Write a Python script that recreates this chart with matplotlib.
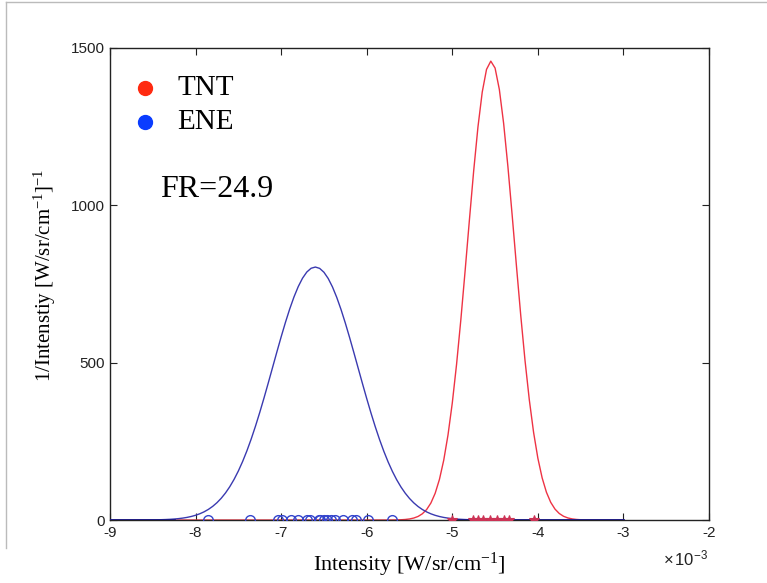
import numpy as np
import matplotlib
matplotlib.use("Agg")
import matplotlib.pyplot as plt
from matplotlib.lines import Line2D

# Data (x in units of 1e-3 W/sr/cm^-1)
tnt_x = [-5.00, -4.76, -4.70, -4.64, -4.56, -4.48, -4.40, -4.34, -4.05]
ene_x = [-7.85, -7.36, -7.04, -6.99, -6.89, -6.80, -6.70, -6.66, -6.56,
         -6.55, -6.50, -6.46, -6.42, -6.37, -6.28, -6.17, -6.13, -5.99, -5.70]
labels = ["TNT", "ENE"]
fr_text = "FR=24.9"
xticks = [-9, -8, -7, -6, -5, -4, -3, -2]
yticks = [0, 500, 1000, 1500]

scale = 1e-3

def normpdf_fit(samples, grid):
    s = np.asarray(samples) * scale
    mu = s.mean()
    sd = s.std(ddof=1)
    return np.exp(-0.5 * ((grid - mu) / sd) ** 2) / (sd * np.sqrt(2 * np.pi))

grid = np.arange(-9, -3 + 1e-9, 0.05) * scale
ene_pdf = normpdf_fit(ene_x, grid)
tnt_pdf = normpdf_fit(tnt_x, grid)

plt.rcParams['font.family'] = ['Liberation Sans', 'DejaVu Sans']
plt.rcParams['mathtext.fontset'] = 'custom'
plt.rcParams['mathtext.rm'] = 'Liberation Serif'
plt.rcParams['mathtext.it'] = 'Liberation Serif:italic'
plt.rcParams['mathtext.sf'] = 'Liberation Sans'

fig = plt.figure(figsize=(7.67, 5.83), dpi=100)
ax = fig.add_axes([0.1434, 0.108, 0.781, 0.8097])

blue_line = '#3a3ab0'
red_line = '#ee3344'
ax.plot(grid, ene_pdf, color=blue_line, lw=1.0, zorder=3)
ax.plot(grid, tnt_pdf, color=red_line, lw=1.0, zorder=2)
m1 = grid <= -8.2e-3
m2 = grid >= -5.0e-3
ax.plot(grid[m1], np.zeros(m1.sum()), color='#1a1a80', lw=2.0, zorder=3)
ax.plot(grid[m2], np.zeros(m2.sum()), color='#1a1a80', lw=2.0, zorder=3)

ax.plot(np.asarray(ene_x) * scale, np.zeros(len(ene_x)), linestyle='none', marker='o',
        mfc='none', mec='#3344cc', ms=7, mew=1.0, zorder=4)
ax.plot(np.asarray(tnt_x) * scale, np.zeros(len(tnt_x)), linestyle='none', marker='*',
        color='#cc3355', ms=7, mew=0.8, zorder=4)

ax.set_xlim(-9e-3, -2e-3)
ax.set_ylim(0, 1500)
ax.set_xticks([t * scale for t in xticks])
ax.set_xticklabels([str(t) for t in xticks])
ax.set_yticks(yticks)
ax.set_yticklabels([str(t) for t in yticks])
ax.tick_params(direction='in', top=True, right=True, length=5, width=0.8,
               labelsize=11, pad=4, colors='#222222')
for sp in ax.spines.values():
    sp.set_linewidth(1.0)
    sp.set_color('#222222')

ax.text(0.998, -0.082, r'$\mathsf{\times\,10^{-3}}$', transform=ax.transAxes, ha='right',
        va='center', fontsize=12, color='#222222')

serif = ['Liberation Serif', 'DejaVu Serif']
ax.set_xlabel(r'Intensity [W/sr/cm$^{-1}$]', family=serif, fontsize=16, labelpad=8)
fig.text(45 / 767, 1 - 275 / 583, r'1/Intenstiy [W/sr/cm$^{-1}$]$^{-1}$', family=serif,
         fontsize=15, rotation=90, ha='center', va='center')

# Legend-like annotations
ax.plot([0.059], [0.915], transform=ax.transAxes, marker='o', ms=10, color='#ff2a10',
        linestyle='none', clip_on=False)
ax.plot([0.059], [0.843], transform=ax.transAxes, marker='o', ms=10, color='#0a3cff',
        linestyle='none', clip_on=False)
ax.text(0.113, 0.915, labels[0], transform=ax.transAxes, family=serif, fontsize=21,
        va='center', ha='left')
ax.text(0.113, 0.843, labels[1], transform=ax.transAxes, family=serif, fontsize=21,
        va='center', ha='left')
ax.text(0.083, 0.70, fr_text, transform=ax.transAxes, family=serif, fontsize=23,
        va='center', ha='left')

# Faint frame lines at figure edges
fig.add_artist(Line2D([0.008, 0.008], [0.06, 0.996], transform=fig.transFigure,
                      color='#bbbbbb', lw=1.0))
fig.add_artist(Line2D([0.008, 1.0], [0.996, 0.996], transform=fig.transFigure,
                      color='#bbbbbb', lw=1.0))

fig.savefig('out.png', dpi=100)
